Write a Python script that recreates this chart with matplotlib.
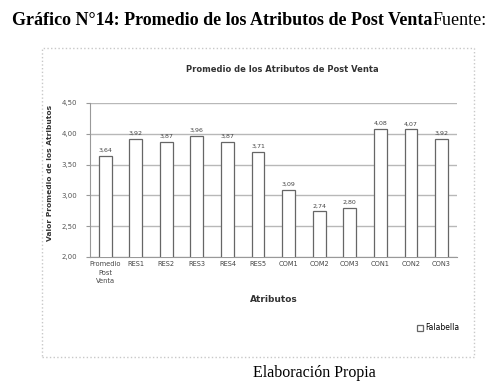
import matplotlib.pyplot as plt
from matplotlib.patches import Rectangle

# data
categories = ['Promedio\nPost\nVenta', 'RES1', 'RES2', 'RES3', 'RES4', 'RES5',
              'COM1', 'COM2', 'COM3', 'CON1', 'CON2', 'CON3']
values = [3.64, 3.92, 3.87, 3.96, 3.87, 3.71, 3.09, 2.74, 2.80, 4.08, 4.07, 3.92]
yticks = [2.0, 2.5, 3.0, 3.5, 4.0, 4.5]

fig = plt.figure(figsize=(5.02, 3.87), dpi=100)

# chart frame
frame = Rectangle((0.084, 0.077), 0.861, 0.798, transform=fig.transFigure,
                  fill=False, edgecolor='#c8c8c8', linewidth=1.0, linestyle=':')
fig.add_artist(frame)

ax = fig.add_axes([0.179, 0.336, 0.731, 0.398])

# outer caption (document text)
t1 = fig.text(0.024, 0.947, 'Gráfico N°14: Promedio de los Atributos de Post Venta',
              family='Liberation Serif', fontsize=13, fontweight='bold',
              va='center', ha='left')
ax.annotate('Fuente:', xy=(1, 0.5), xycoords=t1, va='center', ha='left',
            family='Liberation Serif', fontsize=13, annotation_clip=False)
fig.text(0.627, 0.036, 'Elaboración Propia', family='Liberation Serif',
         fontsize=11.5, ha='center', va='center')

x = range(len(categories))
bars = ax.bar(x, values, width=0.42, color='white', edgecolor='#666666',
              linewidth=0.9, zorder=3)
for xi, v in zip(x, values):
    ax.text(xi, v + 0.05, f'{v:.2f}'.replace('.', ','), ha='center', va='bottom',
            fontsize=4.5, color='#444444')

ax.set_ylim(2.0, 4.5)
ax.set_xlim(-0.5, len(categories) - 0.5)
ax.set_yticks(yticks)
ax.set_yticklabels([f'{t:.2f}'.replace('.', ',') for t in yticks],
                   fontsize=5, color='#555555')
ax.set_xticks(list(x))
ax.set_xticklabels(categories, fontsize=4.8, color='#444444', linespacing=1.5)
ax.yaxis.grid(True, color='#b8b8b8', linewidth=1.0, zorder=0)
ax.tick_params(axis='y', length=3, color='#999999', pad=6)
ax.tick_params(axis='x', length=0, pad=3)
for s in ['top', 'right']:
    ax.spines[s].set_visible(False)
ax.spines['left'].set_color('#999999')
ax.spines['bottom'].set_color('#999999')

ax.set_title('Promedio de los Atributos de Post Venta', fontsize=6,
             fontweight='bold', color='#333333', pad=0, y=1.2, x=0.525)
ax.set_xlabel('Atributos', fontsize=6.5, fontweight='bold', color='#333333',
              labelpad=8)
ax.set_ylabel('Valor Promedio de los Atributos', fontsize=5.4, fontweight='bold',
              color='#333333')
ax.yaxis.set_label_coords(-0.10, 0.545)

ax.legend([bars[0]], ['Falabella'], loc='center', bbox_to_anchor=(0.95, -0.46),
          fontsize=5.5, frameon=False, handlelength=0.8, handleheight=0.8,
          handletextpad=0.3)

fig.savefig('out.png', dpi=100)
